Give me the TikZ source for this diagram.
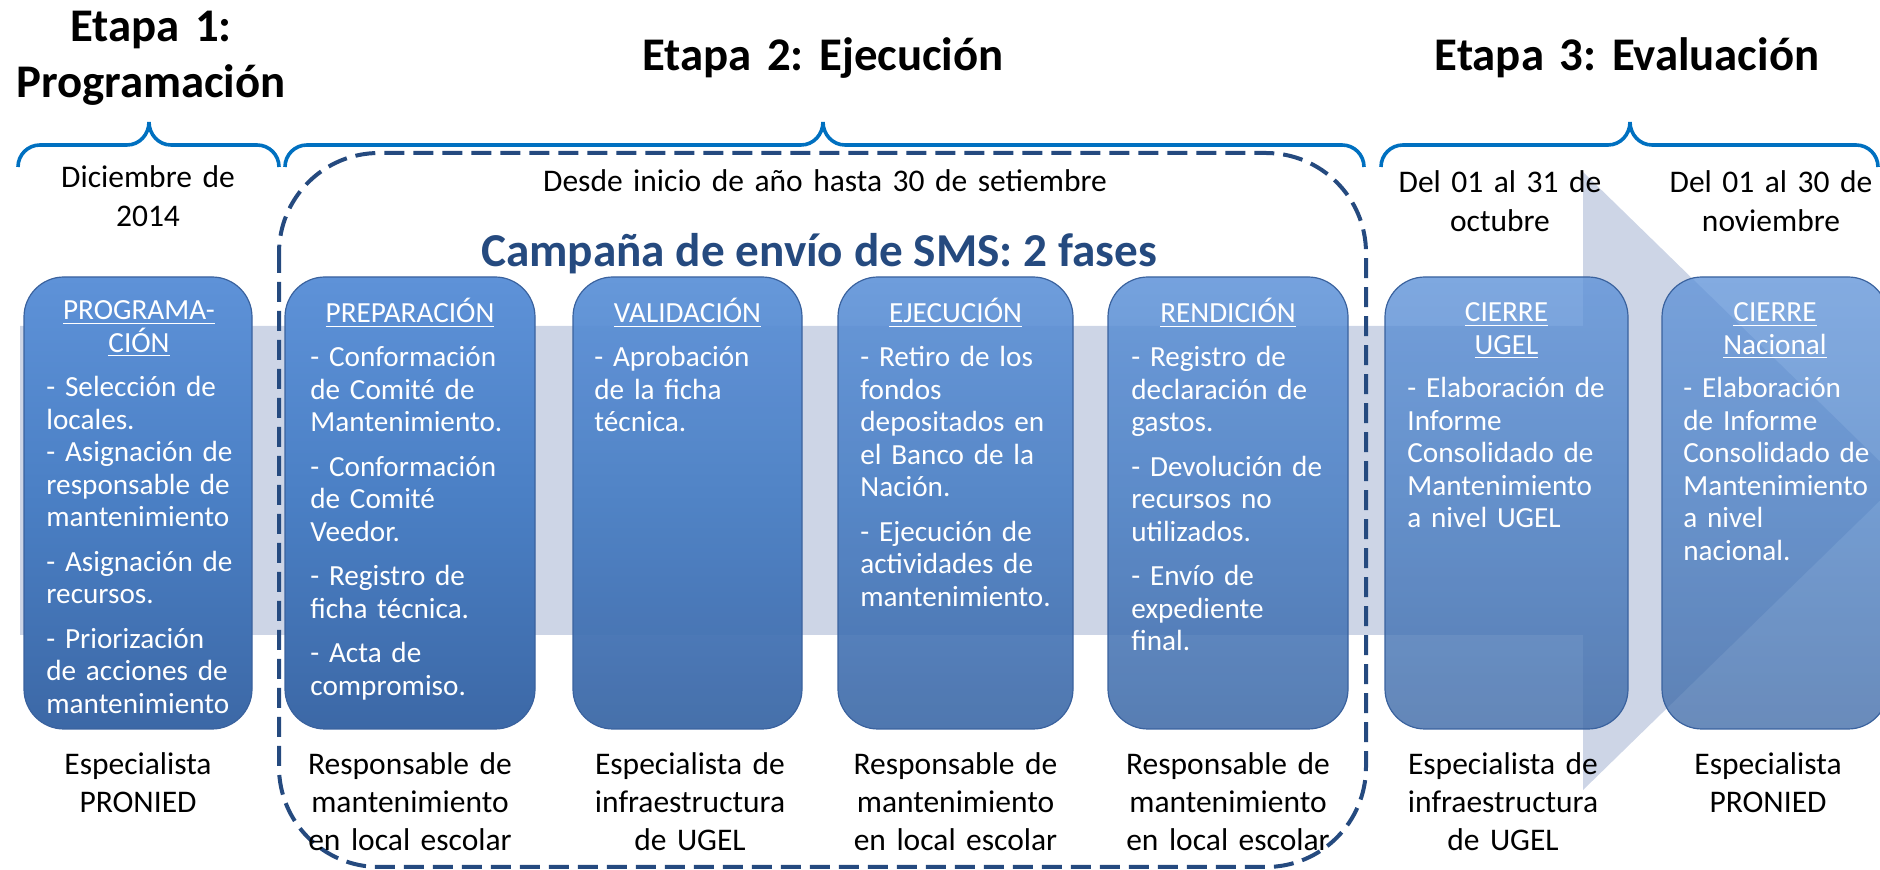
\documentclass[tikz,border=0pt]{standalone}
\usepackage{fontspec}
\setmainfont{Carlito}
\frenchspacing
\definecolor{bandc}{RGB}{205,213,230}
\definecolor{bracec}{RGB}{0,112,192}
\definecolor{dashc}{RGB}{37,74,127}
\definecolor{boxtop}{RGB}{94,146,216}
\definecolor{boxmid}{RGB}{74,127,196}
\definecolor{boxbot}{RGB}{60,104,166}
\definecolor{boxedge}{RGB}{58,98,158}
\begin{document}
\begin{tikzpicture}[x=0.5pt,y=-0.5pt,
  phasebox/.style={rounded corners=20pt, top color=boxtop, bottom color=boxbot, middle color=boxmid,
    draw=boxedge, line width=0.6pt, minimum height=226pt, inner sep=0pt, outer sep=0pt},
  boxtitle/.style={font=\fontsize{14.6}{16.25}\selectfont, text=white, align=center, text width=112pt,
    inner sep=0pt, anchor=base},
  boxbody/.style={font=\fontsize{14.6}{16.25}\selectfont, text=white, align=left, text width=112pt,
    inner sep=0pt, anchor=base west},
  lowlabel/.style={font=\fontsize{15.75}{19}\selectfont, align=center, text width=130pt, inner sep=0pt, anchor=base},
  datelabel/.style={font=\fontsize{15.75}{19.5}\selectfont, align=center, text width=150pt, inner sep=0pt, anchor=base},
  stagetitle/.style={font=\bfseries\fontsize{23.4}{28}\selectfont, align=center, text width=250pt, inner sep=0pt, anchor=base},
  campaign/.style={font=\bfseries\fontsize{23.6}{28}\selectfont, text=dashc, inner sep=0pt, anchor=base},
  bracepath/.style={draw=bracec, line width=1.8pt},
  dashbox/.style={draw=dashc, line width=2pt, rounded corners=50pt, dash pattern=on 10pt off 4.5pt},
  bandshape/.style={fill=bandc}
]
\useasboundingbox (0,0) rectangle (1880,870);
\clip (0,0) rectangle (1880,870);

% background arrow
\path[bandshape] (20,326) -- (1583,326) -- (1583,172) -- (1900,481) -- (1583,790) -- (1583,635) -- (20,635) -- cycle;

% titles
\node[stagetitle] (t1) at (151,42) {Etapa 1:\\[0pt]Programación};
\node[stagetitle] (t2) at (823,71) {Etapa 2: Ejecución};
\node[stagetitle] (t3) at (1627,71) {Etapa 3: Evaluación};

% braces
\draw[bracepath] (18,167) to[out=90,in=180] (40,145) -- (127,145) to[out=0,in=-90] (149,122)
  to[out=-90,in=180] (171,145) -- (257,145) to[out=0,in=90] (279,167);
\draw[bracepath] (285,167) to[out=90,in=180] (307,145) -- (801,145) to[out=0,in=-90] (823,122)
  to[out=-90,in=180] (845,145) -- (1342,145) to[out=0,in=90] (1364,167);
\draw[bracepath] (1381,167) to[out=90,in=180] (1403,145) -- (1608,145) to[out=0,in=-90] (1630,122)
  to[out=-90,in=180] (1652,145) -- (1856,145) to[out=0,in=90] (1878,167);

% date labels
\node[datelabel] (d1) at (148,188) {Diciembre de\\2014};
\node[datelabel, text width=300pt] (d2) at (825,192) {Desde inicio de año hasta 30 de setiembre};
\node[datelabel] (d3) at (1500,193) {Del 01 al 31 de\\octubre};
\node[datelabel] (d4) at (1771,193) {Del 01 al 30 de\\noviembre};

% dashed campaign frame
\draw[dashbox] (279,153) rectangle (1366,867);
\node[campaign] (camp) at (819,267) {Campaña de envío de SMS: 2 fases};

% boxes
\node[phasebox, minimum width=114pt, fill opacity=1] (b1) at (138,503) {};
\node[phasebox, minimum width=125pt, fill opacity=1] (b2) at (410,503) {};
\node[phasebox, minimum width=114.5pt, fill opacity=0.95] (b3) at (687.5,503) {};
\node[phasebox, minimum width=117.5pt, fill opacity=0.9] (b4) at (955.5,503) {};
\node[phasebox, minimum width=120pt, fill opacity=0.86] (b5) at (1228,503) {};
\node[phasebox, minimum width=121.5pt, fill opacity=0.8] (b6) at (1506.5,503) {};
\node[phasebox, minimum width=113pt, fill opacity=0.77] (b7) at (1775,503) {};

% box titles
\node[boxtitle] (b1t) at (139,320) {\underline{PROGRAMA-}\\\underline{CIÓN}};
\node[boxtitle] (b2t) at (410,323) {\underline{PREPARACIÓN}};
\node[boxtitle] (b3t) at (687.5,323) {\underline{VALIDACIÓN}};
\node[boxtitle] (b4t) at (955.5,323) {\underline{EJECUCIÓN}};
\node[boxtitle] (b5t) at (1228,323) {\underline{RENDICIÓN}};
\node[boxtitle] (b6t) at (1506.5,322) {\underline{CIERRE}\\\underline{UGEL}};
\node[boxtitle] (b7t) at (1775,322) {\underline{CIERRE}\\\underline{Nacional}};

% box bodies
\node[boxbody] (b1b) at (46,397) {- Selección de\\locales.\\- Asignación de\\responsable de\\mantenimiento\\[6pt]- Asignación de\\recursos.\\[6pt]- Priorización\\de acciones de\\mantenimiento};
\node[boxbody] (b2b) at (310,367) {- Conformación\\de Comité de\\Mantenimiento.\\[6pt]- Conformación\\de Comité\\Veedor.\\[6pt]- Registro de\\ficha técnica.\\[6pt]- Acta de\\compromiso.};
\node[boxbody] (b3b) at (594,367) {- Aprobación\\de la ficha\\técnica.};
\node[boxbody] (b4b) at (860,367) {- Retiro de los\\fondos\\depositados en\\el Banco de la\\Nación.\\[6pt]- Ejecución de\\actividades de\\mantenimiento.};
\node[boxbody] (b5b) at (1131,367) {- Registro de\\declaración de\\gastos.\\[6pt]- Devolución de\\recursos no\\utilizados.\\[6pt]- Envío de\\expediente\\final.};
\node[boxbody] (b6b) at (1407,398) {- Elaboración de\\Informe\\Consolidado de\\Mantenimiento\\a nivel UGEL};
\node[boxbody] (b7b) at (1683,398) {- Elaboración\\de Informe\\Consolidado de\\Mantenimiento\\a nivel\\nacional.};

% responsible labels
\node[lowlabel] (c1) at (138,775) {Especialista\\PRONIED};
\node[lowlabel] (c2) at (410,775) {Responsable de\\mantenimiento\\en local escolar};
\node[lowlabel] (c3) at (690,775) {Especialista de\\infraestructura\\de UGEL};
\node[lowlabel] (c4) at (955.5,775) {Responsable de\\mantenimiento\\en local escolar};
\node[lowlabel] (c5) at (1228,775) {Responsable de\\mantenimiento\\en local escolar};
\node[lowlabel] (c6) at (1503,775) {Especialista de\\infraestructura\\de UGEL};
\node[lowlabel] (c7) at (1768,775) {Especialista\\PRONIED};
\end{tikzpicture}
\end{document}
